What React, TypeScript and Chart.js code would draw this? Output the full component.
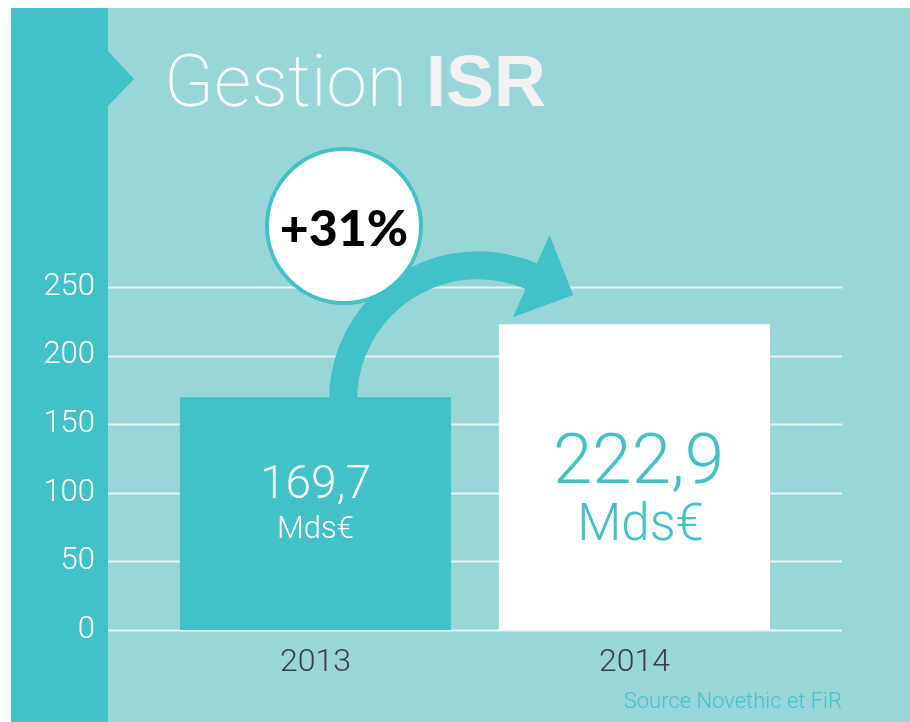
import React, { useEffect, useRef } from "react";
import { Chart, registerables } from "chart.js";

Chart.register(...registerables);

const categories = ["2013", "2014"];
const values = [169.7, 222.9];
const valueLabels = ["169,7", "222,9"];
const unitLabel = "Mds€";
const yTicks = [0, 50, 100, 150, 200, 250];
const growthLabel = "+31%";
const titleLight = "Gestion";
const titleBold = "ISR";
const sourceText = "Source Novethic et FiR";

const TEAL = "#42c1c6";
const LIGHT = "#98d6d9";
const LIGHT_FONT = "Roboto";

const decor = {
  id: "decor",
  beforeDraw(chart: any) {
    const ctx = chart.ctx;
    const W = chart.width;
    const H = chart.height;
    ctx.save();
    ctx.fillStyle = "#ffffff";
    ctx.fillRect(0, 0, W, H);
    ctx.fillStyle = LIGHT;
    ctx.fillRect(11, 8, W - 11, H - 8);
    ctx.fillStyle = TEAL;
    ctx.fillRect(11, 8, 97, H - 8);
    ctx.beginPath();
    ctx.moveTo(107, 50);
    ctx.lineTo(134, 79);
    ctx.lineTo(107, 107);
    ctx.closePath();
    ctx.fill();
    // title
    ctx.textBaseline = "alphabetic";
    ctx.textAlign = "left";
    ctx.fillStyle = "#fbfbfb";
    ctx.font = `200 73px ${LIGHT_FONT}, sans-serif`;
    ctx.fillText(titleLight, 164, 106);
    ctx.fillStyle = "#f2f2f2";
    ctx.font = `bold 72px "Liberation Sans", Arial, sans-serif`;
    ctx.fillText(titleBold, 426, 106);
    ctx.restore();
  },
  beforeDatasetsDraw(chart: any) {
    const ctx = chart.ctx;
    const y = chart.scales.y;
    ctx.save();
    ctx.strokeStyle = "rgba(255,255,255,0.8)";
    ctx.lineWidth = 2;
    yTicks.forEach((t) => {
      const py = Math.round(y.getPixelForValue(t)) + 0.5;
      ctx.beginPath();
      ctx.moveTo(108, py);
      ctx.lineTo(842, py);
      ctx.stroke();
    });
    ctx.restore();
  },
  afterDatasetsDraw(chart: any) {
    const ctx = chart.ctx;
    const x = chart.scales.x;
    const y = chart.scales.y;
    const x1 = x.getPixelForValue(0);
    const x2 = x.getPixelForValue(1);
    const top1 = y.getPixelForValue(values[0]);
    const top2 = y.getPixelForValue(values[1]);
    const gap = x2 - x1;
    ctx.save();
    // curved arrow
    const cx = (x1 + x2) / 2 + 3;
    const cy = top1 + 3;
    const r = gap * 0.423;
    const aEnd = -Math.PI / 2 + 0.42;
    ctx.strokeStyle = TEAL;
    ctx.lineWidth = 28;
    ctx.beginPath();
    ctx.arc(cx, cy, r, Math.PI, 2 * Math.PI + aEnd, false);
    ctx.stroke();
    // arrow head
    const bx = cx + r * Math.cos(aEnd);
    const by = cy + r * Math.sin(aEnd);
    const tx = -Math.sin(aEnd);
    const ty = Math.cos(aEnd);
    const nx = Math.cos(aEnd);
    const ny = Math.sin(aEnd);
    ctx.fillStyle = TEAL;
    ctx.beginPath();
    ctx.moveTo(bx - nx * 45 - tx * 2, by - ny * 45 - ty * 2);
    ctx.lineTo(bx + tx * 44, by + ty * 44);
    ctx.lineTo(bx + nx * 45 - tx * 2, by + ny * 45 - ty * 2);
    ctx.closePath();
    ctx.fill();
    // circle
    const ccx = x1 + 28.5;
    const ccy = y.getPixelForValue(250) - 61;
    ctx.beginPath();
    ctx.arc(ccx, ccy, 77, 0, Math.PI * 2);
    ctx.fillStyle = "#ffffff";
    ctx.fill();
    ctx.lineWidth = 4;
    ctx.strokeStyle = TEAL;
    ctx.stroke();
    ctx.fillStyle = "#000000";
    ctx.textAlign = "center";
    ctx.textBaseline = "middle";
    ctx.font = `900 50px Lato, sans-serif`;
    ctx.fillText(growthLabel, ccx, ccy + 4);
    // value labels
    ctx.textBaseline = "alphabetic";
    ctx.fillStyle = "#ffffff";
    ctx.font = `300 46px ${LIGHT_FONT}, sans-serif`;
    ctx.fillText(valueLabels[0], x1, top1 + 101);
    ctx.font = `300 31px ${LIGHT_FONT}, sans-serif`;
    ctx.fillText(unitLabel, x1, top1 + 141);
    ctx.fillStyle = TEAL;
    ctx.font = `300 71px ${LIGHT_FONT}, sans-serif`;
    ctx.fillText(valueLabels[1], x2 + 4, top2 + 159);
    ctx.font = `300 51px ${LIGHT_FONT}, sans-serif`;
    ctx.fillText(unitLabel, x2 + 6, top2 + 216);
    // source
    ctx.textAlign = "right";
    ctx.fillStyle = "#45c3cb";
    ctx.font = `300 22px ${LIGHT_FONT}, sans-serif`;
    ctx.fillText(sourceText, 842, 708);
    ctx.restore();
  },
};

export default function App() {
  const ref = useRef<HTMLCanvasElement | null>(null);
  useEffect(() => {
    if (!ref.current) return;
    const chart = new Chart(ref.current, {
      type: "bar",
      data: {
        labels: categories,
        datasets: [
          {
            data: values,
            backgroundColor: [TEAL, "#ffffff"],
            borderWidth: 0,
            barPercentage: 0.85,
            categoryPercentage: 1,
          },
        ],
      },
      options: {
        responsive: false,
        animation: false,
        events: [],
        layout: { padding: { left: 0, right: 116, top: 287, bottom: 0 } },
        plugins: { legend: { display: false }, tooltip: { enabled: false } },
        scales: {
          x: {
            grid: { display: false },
            border: { display: false },
            ticks: {
              color: "#3d3d3d",
              padding: 6,
              font: { family: LIGHT_FONT, size: 32, weight: "300" as any },
            },
            afterFit: (s: any) => {
              s.height = 92;
            },
          },
          y: {
            min: 0,
            max: 250,
            grid: { display: false },
            border: { display: false },
            ticks: {
              stepSize: 50,
              color: "#ffffff",
              padding: 53,
              font: { family: LIGHT_FONT, size: 31, weight: "300" as any },
            },
            afterFit: (s: any) => {
              s.width = 156;
            },
          },
        },
      },
      plugins: [decor],
    });
    return () => chart.destroy();
  }, []);
  return (
    <div style={{ position: "fixed", left: 0, top: 0, width: 910, height: 722 }}>
      <canvas ref={ref} width={910} height={722} style={{ display: "block" }} />
    </div>
  );
}
